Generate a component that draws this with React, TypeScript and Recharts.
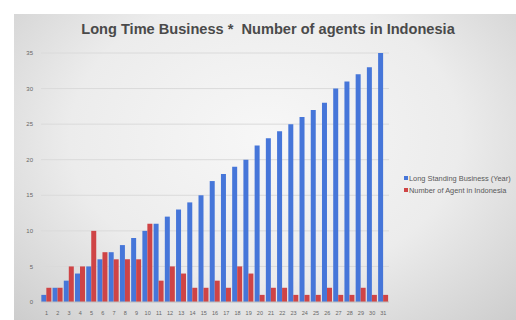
import React from "react";
import { BarChart, Bar, XAxis, YAxis, CartesianGrid } from "recharts";

const categories = [
    "1", "2", "3", "4", "5", "6", "7", "8", "9", "10",
    "11", "12", "13", "14", "15", "16", "17", "18", "19", "20",
    "21", "22", "23", "24", "25", "26", "27", "28", "29", "30", "31",
];
const longStandingYears = [
    1, 2, 3, 4, 5, 6, 7, 8, 9, 10, 11, 12, 13, 14, 15, 17, 18, 19, 20, 22,
    23, 24, 25, 26, 27, 28, 30, 31, 32, 33, 35,
];
const agentCounts = [
    2, 2, 5, 5, 10, 7, 6, 6, 6, 11, 3, 5, 4, 2, 2, 3, 2, 5, 4, 1,
    2, 2, 1, 1, 1, 2, 1, 1, 2, 1, 1,
];
const yTicks = [0, 5, 10, 15, 20, 25, 30, 35];

const BLUE = "#4676d9";
const RED = "#cf4446";
const FONT = "Liberation Sans, Arial, sans-serif";

const data = categories.map((c, i) => ({
    name: c,
    years: longStandingYears[i],
    agents: agentCounts[i],
}));

const legendItems = [
    { label: "Long Standing Business (Year)", color: BLUE },
    { label: "Number of Agent in Indonesia", color: RED },
];

export default function App() {
    return (
        <div style={{ position: "fixed", left: 0, top: 0, width: 516, height: 320, background: "#fff" }}>
            <div
                style={{
                    position: "absolute",
                    left: 14,
                    top: 14,
                    width: 502,
                    height: 306,
                    background: "radial-gradient(ellipse at 50% 40%, #f7f7f7 0%, #ececec 55%, #cdcdcd 100%)",
                }}
            />
            <div
                style={{
                    position: "absolute",
                    left: 0,
                    top: 21,
                    width: 536,
                    textAlign: "center",
                    fontFamily: FONT,
                    fontWeight: "bold",
                    fontSize: 14.6,
                    color: "#4a4a4a",
                }}
            >
                Long Time Business *&nbsp; Number of agents in Indonesia
            </div>
            <div style={{ position: "absolute", left: 0, top: 0 }}>
                <BarChart
                    width={516}
                    height={320}
                    data={data}
                    margin={{ top: 53, right: 127, bottom: 4, left: 0 }}
                    barCategoryGap="3%"
                    barGap={0}
                >
                    <CartesianGrid vertical={false} stroke="#dadada" />
                    <XAxis
                        dataKey="name"
                        interval={0}
                        height={14}
                        tickLine={false}
                        axisLine={{ stroke: "#bfbfbf" }}
                        tick={{ fontSize: 5.5, fill: "#666", fontFamily: FONT }}
                        tickMargin={3}
                    />
                    <YAxis
                        domain={[0, 35]}
                        ticks={yTicks}
                        width={41}
                        tickLine={false}
                        axisLine={false}
                        tick={{ fontSize: 6, fill: "#666", fontFamily: FONT }}
                        tickMargin={2}
                    />
                    <Bar dataKey="years" name="Long Standing Business (Year)" fill={BLUE} isAnimationActive={false} />
                    <Bar dataKey="agents" name="Number of Agent in Indonesia" fill={RED} isAnimationActive={false} />
                </BarChart>
            </div>
            <div
                style={{
                    position: "absolute",
                    left: 404,
                    top: 172,
                    fontFamily: FONT,
                    fontSize: 7.4,
                    color: "#595959",
                }}
            >
                {legendItems.map((it) => (
                    <div key={it.label} style={{ display: "flex", alignItems: "center", height: 12 }}>
                        <span style={{ width: 4, height: 4, background: it.color, marginRight: 1, display: "inline-block" }} />
                        <span>{it.label}</span>
                    </div>
                ))}
            </div>
        </div>
    );
}
